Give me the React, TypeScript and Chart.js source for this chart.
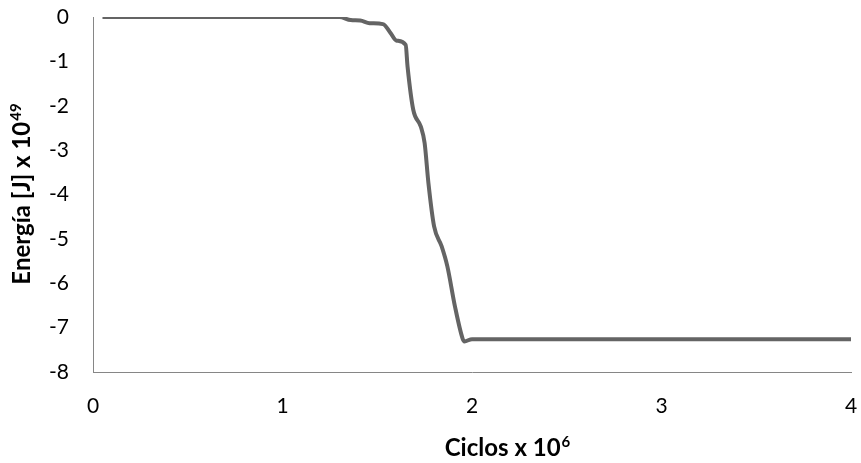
import React, { useEffect, useRef } from "react";
import { Chart, registerables } from "chart.js";

Chart.register(...registerables);

// Cycles (x 10^6) and energy (J x 10^49)
const cycles = [0.05, 0.5, 1.0, 1.3, 1.36, 1.41, 1.46, 1.53, 1.57, 1.6, 1.65, 1.66, 1.69, 1.73, 1.75, 1.77, 1.8, 1.84, 1.87, 1.91, 1.95, 1.96, 2.0, 3.0, 4.0];
const energy = [0, 0, 0, 0, -0.07, -0.08, -0.14, -0.16, -0.36, -0.53, -0.63, -1.12, -2.09, -2.47, -2.84, -3.74, -4.72, -5.17, -5.62, -6.52, -7.24, -7.31, -7.26, -7.26, -7.26];

const xTicks = [0, 1, 2, 3, 4];
const yTicks = [0, -1, -2, -3, -4, -5, -6, -7, -8];

// Axis titles: base text and superscript exponent
const xTitle = ["Ciclos x 10", "6"];
const yTitle = ["Energía [J] x 10", "49"];

const FONT = "Lato, 'Open Sans', sans-serif";
const TITLE_SIZE = 24;
const SUP_SIZE = 15;

// Draws one title with a raised exponent, centred horizontally on x=0,
// with its baseline at y=baseline of the current transform
function drawSupTitle(ctx: CanvasRenderingContext2D, parts: string[], baseline: number) {
  const [base, sup] = parts;
  ctx.font = `bold ${TITLE_SIZE}px ${FONT}`;
  const wb = ctx.measureText(base).width;
  ctx.font = `bold ${SUP_SIZE}px ${FONT}`;
  const ws = ctx.measureText(sup).width;
  const start = -(wb + ws) / 2;
  ctx.textBaseline = "alphabetic";
  ctx.textAlign = "left";
  ctx.fillStyle = "#000";
  ctx.font = `bold ${TITLE_SIZE}px ${FONT}`;
  ctx.fillText(base, start, baseline);
  ctx.font = `bold ${SUP_SIZE}px ${FONT}`;
  ctx.fillText(sup, start + wb + 1, baseline - 9);
}

const titlePlugin = {
  id: "supTitles",
  afterDraw(chart: any) {
    const { ctx, chartArea } = chart;
    // x-axis title, set somewhat right of the plot centre
    ctx.save();
    ctx.translate((chartArea.left + chartArea.right) / 2 + 35, 448);
    drawSupTitle(ctx, xTitle, 8);
    ctx.restore();
    // y-axis title, rotated
    ctx.save();
    ctx.translate(22, (chartArea.top + chartArea.bottom) / 2);
    ctx.rotate(-Math.PI / 2);
    drawSupTitle(ctx, yTitle, 8);
    ctx.restore();
  },
};

export default function App() {
  const canvasRef = useRef<HTMLCanvasElement | null>(null);

  useEffect(() => {
    const canvas = canvasRef.current;
    if (!canvas) return;
    const chart = new Chart(canvas, {
      type: "line",
      data: {
        datasets: [
          {
            data: cycles.map((x, i) => ({ x, y: energy[i] })),
            borderColor: "#646464",
            borderWidth: 4,
            pointRadius: 0,
            cubicInterpolationMode: "monotone",
            fill: false,
          },
        ],
      },
      options: {
        responsive: false,
        animation: false,
        layout: { padding: { top: 17, right: 10, left: 0, bottom: 0 } },
        plugins: { legend: { display: false }, tooltip: { enabled: false } },
        scales: {
          x: {
            type: "linear",
            min: 0,
            max: 4,
            afterBuildTicks: (scale: any) => {
              scale.ticks = xTicks.map((v) => ({ value: v }));
            },
            afterFit: (scale: any) => {
              scale.height = 91;
              scale.paddingLeft = 0;
              scale.paddingRight = 0;
            },
            grid: { display: false, drawTicks: false },
            border: { display: true, color: "#868686", width: 1 },
            ticks: {
              color: "#000",
              padding: 22,
              font: { family: FONT, size: 21 },
              maxRotation: 0,
            },
          },
          y: {
            type: "linear",
            min: -8,
            max: 0,
            afterBuildTicks: (scale: any) => {
              scale.ticks = yTicks.map((v) => ({ value: v }));
            },
            afterFit: (scale: any) => {
              scale.width = 93;
              scale.paddingTop = 0;
              scale.paddingBottom = 0;
            },
            grid: { display: false, drawTicks: false },
            border: { display: true, color: "#868686", width: 1 },
            ticks: {
              color: "#000",
              padding: 24,
              font: { family: FONT, size: 21 },
            },
          },
        },
      },
      plugins: [titlePlugin],
    });
    return () => chart.destroy();
  }, []);

  return (
    <div style={{ position: "fixed", left: 0, top: 0, width: 861, height: 463, background: "#fff" }}>
      <canvas ref={canvasRef} width={861} height={463} />
    </div>
  );
}
